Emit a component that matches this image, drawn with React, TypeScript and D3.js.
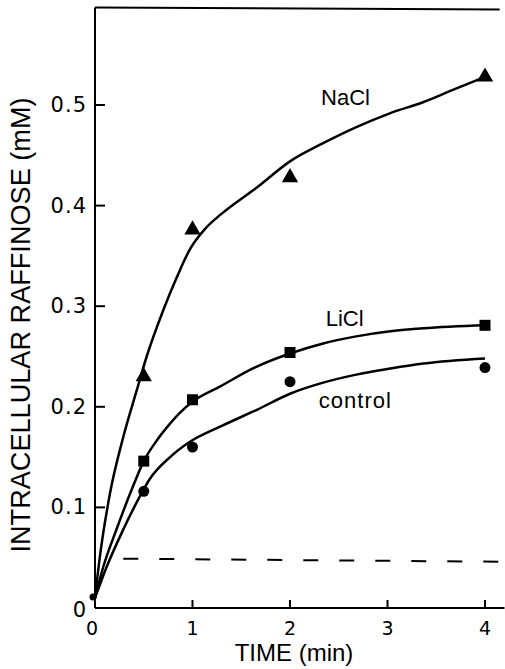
import React from 'react';
import * as d3 from 'd3';

// time (min) and intracellular raffinose (mM)
const timePoints = [0.5, 1, 2, 4];
const naclValues = [0.23, 0.376, 0.428, 0.528];
const liclValues = [0.146, 0.207, 0.254, 0.281];
const controlValues = [0.116, 0.16, 0.225, 0.239];
const originPoint: [number, number] = [0, 0.011];

// hand-drawn fitted curves
const naclCurve: [number, number][] = [
  [0, 0.01], [0.05, 0.051], [0.154, 0.114], [0.29, 0.17], [0.43, 0.217],
  [0.53, 0.25], [0.7, 0.296], [0.84, 0.329], [0.97, 0.356], [1.13, 0.377],
  [1.3, 0.392], [1.66, 0.418], [2.0, 0.444], [2.34, 0.462], [2.68, 0.478],
  [3.03, 0.492], [3.37, 0.503], [3.67, 0.515], [4.0, 0.528],
];
const liclCurve: [number, number][] = [
  [0, 0.01], [0.085, 0.041], [0.22, 0.078], [0.39, 0.121], [0.5, 0.146],
  [0.63, 0.166], [0.75, 0.181], [0.87, 0.194], [1.0, 0.205], [1.28, 0.22],
  [1.66, 0.24], [2.0, 0.253], [2.34, 0.263], [2.68, 0.27], [3.03, 0.275],
  [3.37, 0.278], [4.0, 0.281],
];
const controlCurve: [number, number][] = [
  [0, 0.01], [0.12, 0.041], [0.29, 0.078], [0.46, 0.111], [0.56, 0.128],
  [0.77, 0.15], [0.97, 0.165], [1.3, 0.181], [1.66, 0.197], [2.0, 0.213],
  [2.34, 0.224], [2.68, 0.232], [3.03, 0.238], [3.37, 0.243], [4.0, 0.248],
];
const baselineLine: [number, number][] = [[0.29, 0.049], [4.15, 0.046]];

const xTicks = [0, 1, 2, 3, 4];
const yTicks = [0, 0.1, 0.2, 0.3, 0.4, 0.5];
const yTickLabels = ['0', '0.1', '0.2', '0.3', '0.4', '0.5'];
const seriesNames = ['NaCl', 'LiCl', 'control'];

const width = 505;
const height = 669;
const yMax = 0.597;

const App: React.FC = () => {
  const x = d3.scaleLinear().domain([0, 4.2]).range([95, 504.5]);
  const y = d3.scaleLinear().domain([0, 0.5]).range([608, 105]);

  const line = d3.line<[number, number]>()
    .curve(d3.curveMonotoneX)
    .x(d => x(d[0]))
    .y(d => y(d[1]));

  const tri = d3.symbol().type(d3.symbolTriangle).size(115)() as string;
  const sq = d3.symbol().type(d3.symbolSquare).size(121)() as string;

  const font = '"Liberation Sans", Arial, sans-serif';
  const tickFont = '"DejaVu Sans", sans-serif';

  // label anchors in data space
  const labels = [
    { text: seriesNames[0], t: 2.57, v: 0.5 },
    { text: seriesNames[1], t: 2.56, v: 0.28 },
    { text: seriesNames[2], t: 2.67, v: 0.199 },
  ];

  return (
    <svg width={width} height={height} style={{ position: 'absolute', left: 0, top: 0, background: '#fff' }}>
      {/* frame: left, bottom, top */}
      <g stroke="#000" strokeWidth={2} fill="none">
        <line x1={x(0)} y1={y(0)} x2={x(0)} y2={y(yMax)} />
        <line x1={x(0)} y1={y(0)} x2={x(4.2)} y2={y(0)} />
        <line x1={x(0)} y1={y(yMax)} x2={x(4.15)} y2={y(yMax) + 2} />
      </g>

      {/* y ticks */}
      {yTicks.map((v, i) => (
        <g key={'y' + i}>
          {v > 0 && <line x1={x(0)} x2={x(0) + 10} y1={y(v)} y2={y(v)} stroke="#000" strokeWidth={2} />}
          <text x={x(0) - 8} y={y(v) + (v === 0 ? 2 : 0)} textAnchor="end" dominantBaseline="central"
            fontFamily={tickFont} fontSize={21} letterSpacing={1}>{yTickLabels[i]}</text>
        </g>
      ))}

      {/* x ticks */}
      {xTicks.map(t => (
        <g key={'x' + t}>
          {t > 0 && <line x1={x(t)} x2={x(t)} y1={y(0)} y2={y(0) - 8} stroke="#000" strokeWidth={2} />}
          <text x={x(t) - (t === 0 ? 3 : 0)} y={635} textAnchor="middle"
            fontFamily={tickFont} fontSize={19}>{t}</text>
        </g>
      ))}

      {/* axis titles */}
      <text x={294} y={661} textAnchor="middle" fontFamily={font} fontSize={24}>TIME (min)</text>
      <text transform="translate(30,325) rotate(-90)" textAnchor="middle" fontFamily={font} fontSize={27}
        textLength={455} lengthAdjust="spacingAndGlyphs">INTRACELLULAR RAFFINOSE (mM)</text>

      {/* dashed reference */}
      <path d={line(baselineLine) || ''} fill="none" stroke="#000" strokeWidth={2} strokeDasharray="15,21" />

      {/* curves */}
      {[naclCurve, liclCurve, controlCurve].map((c, i) => (
        <path key={'c' + i} d={line(c) || ''} fill="none" stroke="#000" strokeWidth={2.5} />
      ))}

      {/* markers */}
      {timePoints.map((t, i) => (
        <path key={'n' + i} d={tri} transform={`translate(${x(t)},${y(naclValues[i])})`} fill="#000" />
      ))}
      {timePoints.map((t, i) => (
        <path key={'l' + i} d={sq} transform={`translate(${x(t)},${y(liclValues[i])})`} fill="#000" />
      ))}
      {timePoints.map((t, i) => (
        <circle key={'k' + i} cx={x(t)} cy={y(controlValues[i])} r={5.5} fill="#000" />
      ))}
      <circle cx={x(originPoint[0]) - 2} cy={y(originPoint[1])} r={3.5} fill="#000" />

      {/* series labels */}
      {labels.map(l => (
        <text key={l.text} x={x(l.t)} y={y(l.v)} textAnchor="middle" fontFamily={font} fontSize={22}
          letterSpacing={l.text === 'control' ? 1 : 0}>{l.text}</text>
      ))}
    </svg>
  );
};

export default App;
